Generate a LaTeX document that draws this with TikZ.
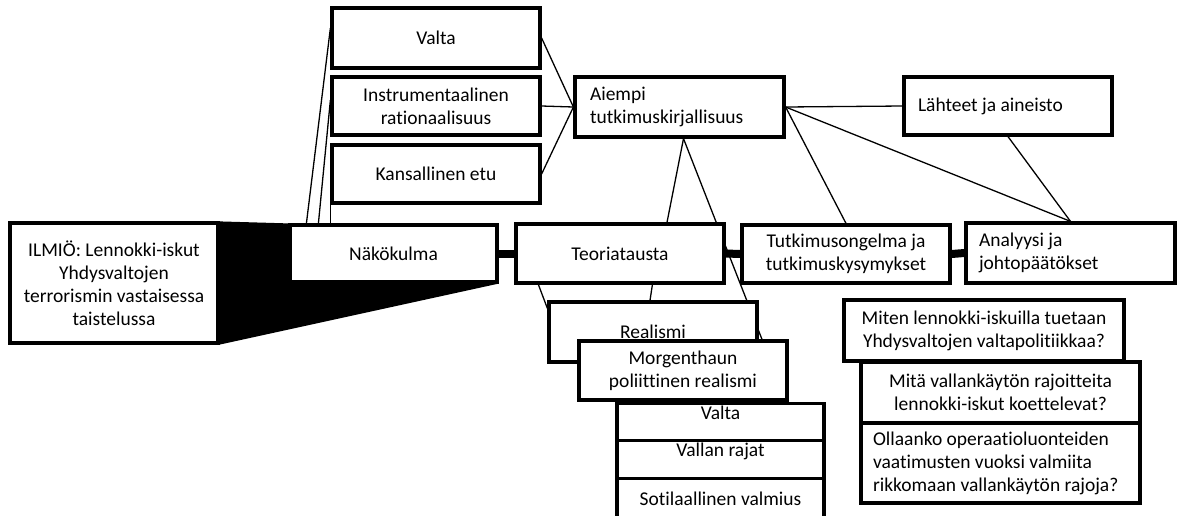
\documentclass[tikz,border=0pt]{standalone}
\usepackage{fontspec}
\setmainfont{Carlito}[Ligatures=NoCommon]
\usetikzlibrary{positioning,backgrounds}
\tikzstyle{diagram} = [x = 1pt, y = -1pt]
\tikzstyle{boxStyle} = [draw, fill=white, line width=3.2pt, inner sep=0pt, align=center, font=\fontsize{19.5}{23}\selectfont]
\tikzstyle{leftBoxStyle} = [boxStyle, align=flush left]
\tikzstyle{linkLine} = [line width=1.3pt]
\tikzstyle{thickLink} = [line width=8pt]
\tikzstyle{wedgeStyle} = [fill=black]

\begin{document}
\begin{tikzpicture}[diagram]
\useasboundingbox (0,0) rectangle (1182,515);
% main row
\node[boxStyle, minimum width=208pt, minimum height=120pt] (ilmio) at (114,283) {ILMIÖ: Lennokki-iskut\\Yhdysvaltojen\\terrorismin vastaisessa\\taistelussa};
\node[boxStyle, minimum width=207pt, minimum height=57pt] (nako) at (393.5,253.5) {Näkökulma};
\node[boxStyle, minimum width=208pt, minimum height=59pt] (teoria) at (620,253.5) {Teoriatausta};
\node[boxStyle, minimum width=208pt, minimum height=58pt] (ongelma) at (846,254) {Tutkimusongelma ja\\tutkimuskysymykset};
\node[leftBoxStyle, inner xsep=13pt, text width=183pt, minimum height=60pt] (analyysi) at (1070.5,253) {Analyysi ja\\johtopäätökset};
% upper boxes
\node[boxStyle, minimum width=208pt, minimum height=60pt] (valtaTop) at (436,38) {Valta};
\node[boxStyle, minimum width=208pt, minimum height=58pt] (instr) at (436,106) {Instrumentaalinen\\rationaalisuus};
\node[boxStyle, minimum width=208pt, minimum height=58pt] (kansal) at (436,174) {Kansallinen etu};
\node[leftBoxStyle, inner xsep=15pt, text width=179pt, minimum height=60pt] (aiempi) at (679.5,107) {Aiempi\\tutkimuskirjallisuus};
\node[leftBoxStyle, inner xsep=14pt, text width=180pt, minimum height=58pt] (lahteet) at (1008,106) {Lähteet ja aineisto};
% theory stack
\node[boxStyle, minimum width=208pt, minimum height=60pt] (realismi) at (653,332) {Realismi};
\node[boxStyle, minimum width=208pt, minimum height=59pt] (morgen) at (683,370.5) {Morgenthaun\\poliittinen realismi};
\node[boxStyle, minimum width=207pt, text height=16pt, text depth=21pt, anchor=north] (valtaLow) at (720.5,402) {Valta};
\node[boxStyle, minimum width=207pt, text height=16pt, text depth=22pt, anchor=north] (rajat) at (720.5,439) {Vallan rajat};
\node[boxStyle, minimum width=207pt, text height=27pt, text depth=26pt, anchor=north] (sotil) at (720.5,477) {Sotilaallinen valmius};
% questions
\node[boxStyle, minimum width=280pt, minimum height=61pt] (miten) at (984,330.5) {Miten lennokki-iskuilla tuetaan\\Yhdysvaltojen valtapolitiikkaa?};
\node[boxStyle, minimum width=279pt, minimum height=61pt] (mita) at (1000.5,392.5) {Mitä vallankäytön rajoitteita\\lennokki-iskut koettelevat?};
\node[leftBoxStyle, inner xsep=12pt, text width=255pt, minimum height=80pt] (ollaanko) at (1000.5,463) {Ollaanko operaatioluonteiden\\vaatimusten vuoksi valmiita\\rikkomaan vallankäytön rajoja?};

\begin{scope}[on background layer]
\fill[wedgeStyle] (ilmio.north east) -- (nako.north west) -- (nako.south east) -- (ilmio.south east) -- cycle;
\draw[thickLink] (nako.east) -- (teoria.west);
\draw[thickLink] (teoria.east) -- (ongelma.west);
\draw[thickLink] (ongelma.east) -- (analyysi.west);
\draw[linkLine] ([xshift=18pt]nako.north west) -- ([yshift=10pt]valtaTop.west);
\draw[linkLine] ([xshift=30pt]nako.north west) -- ([yshift=6pt]instr.west);
\draw[linkLine] ([xshift=42pt]nako.north west) -- (kansal.south west);
\draw[linkLine] (valtaTop.east) -- (aiempi.west);
\draw[linkLine] (instr.east) -- (aiempi.west);
\draw[linkLine] (kansal.east) -- (aiempi.west);
\draw[linkLine] ([xshift=4pt]aiempi.south) -- ([xshift=47pt]teoria.north);
\draw[linkLine] ([xshift=4pt]aiempi.south) -- ([xshift=79pt]morgen.north);
\draw[linkLine] (aiempi.east) -- (lahteet.west);
\draw[linkLine] (aiempi.east) -- (ongelma.north);
\draw[linkLine] (aiempi.east) -- (analyysi.north);
\draw[linkLine] (lahteet.south) -- (analyysi.north);
\draw[linkLine] ([xshift=24pt]teoria.south west) -- ([yshift=-8pt]realismi.north west);
\draw[linkLine] ([xshift=138pt]teoria.south west) -- ([xshift=-3pt]realismi.north);
\end{scope}
\end{tikzpicture}
\end{document}
